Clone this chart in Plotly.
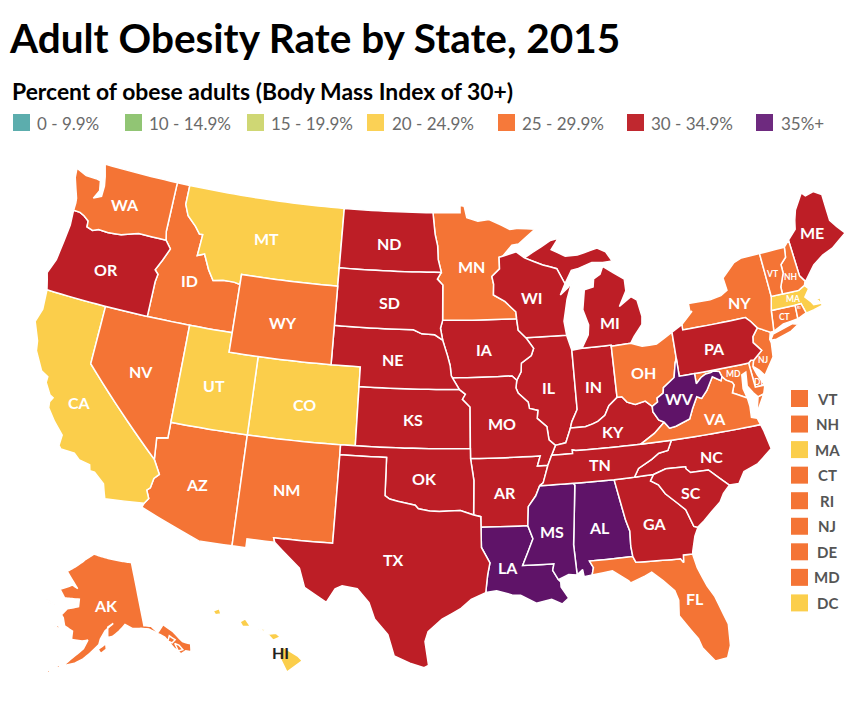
import plotly.graph_objects as go

# ---------- data ----------
STATES = ["AL","AK","AZ","AR","CA","CO","CT","DE","DC","FL","GA","HI","ID","IL","IN","IA","KS","KY","LA","ME","MD","MA","MI","MN","MS","MO","MT","NE","NV","NH","NJ","NM","NY","NC","ND","OH","OK","OR","PA","RI","SC","SD","TN","TX","UT","VT","VA","WA","WV","WI","WY"]
RATES = [35.6,29.8,28.4,34.5,24.2,20.2,25.3,29.7,22.1,26.8,30.7,22.7,28.6,30.8,31.3,32.1,34.2,34.3,36.2,30.0,28.9,24.3,31.2,26.1,35.6,32.4,23.6,31.4,26.7,26.3,25.6,28.8,25.0,30.1,31.0,29.8,33.9,30.1,30.0,26.0,31.7,30.4,33.8,32.4,24.5,25.1,29.2,26.4,35.6,30.7,29.0]
LEGEND_LABELS = ["0 - 9.9%","10 - 14.9%","15 - 19.9%","20 - 24.9%","25 - 29.9%","30 - 34.9%","35%+"]
LEGEND_COLORS = ["#5CADAD","#91C574","#CFD774","#FBD155","#F6793A","#C0282F","#6E2A7F"]
BIN_EDGES = [0,10,15,20,25,30,35,40]
MAP_COLORS = ["#5CADAD","#91C574","#CFD774","#FBCE4B","#F47435","#BD1E26","#5F1368"]
SIDE_STATES = ["VT","NH","MA","CT","RI","NJ","DE","MD","DC"]

# ---------- shared borders, lon/lat ----------
miss_a = [(-92.02,46.71),(-92.29,46.66),(-92.29,46.07),(-92.87,45.70),(-92.76,45.29),(-92.80,44.75),(-92.0,44.40),(-91.25,43.85),(-91.22,43.50)]
miss_b = [(-91.22,43.50),(-91.15,42.91),(-90.64,42.51)]
miss_c = [(-90.64,42.51),(-90.15,41.95),(-90.34,41.59),(-91.05,41.23),(-91.10,40.80),(-91.42,40.38)]
miss_d = [(-91.42,40.38),(-91.50,40.0),(-91.37,39.73),(-90.73,39.25),(-90.67,38.93),(-90.12,38.80),(-90.20,38.4),(-89.6,37.95),(-89.52,37.28),(-89.13,36.98)]
miss_e = [(-89.13,36.98),(-89.42,36.50)]
miss_f = [(-89.42,36.50),(-89.70,36.0)]
miss_g = [(-89.70,36.0),(-90.07,35.13),(-90.30,35.0)]
miss_h = [(-90.30,35.0),(-90.58,34.5),(-91.08,33.97),(-91.17,33.0)]
miss_i = [(-91.17,33.0),(-90.9,32.33),(-91.6,31.0)]
pearl = [(-91.6,31.0),(-89.73,31.0),(-89.83,30.67),(-89.53,30.18)]
ohio_il = [(-89.13,36.98),(-88.45,37.07),(-88.07,37.80)]
ohio_in = [(-88.07,37.80),(-87.1,37.79),(-86.6,37.90),(-86.25,38.0),(-85.75,38.27),(-85.42,38.73),(-84.82,39.10)]
ohio_oh = [(-84.82,39.10),(-84.5,39.10),(-84.2,38.8),(-83.68,38.63),(-83.0,38.73),(-82.59,38.42)]
ohio_wv = [(-82.59,38.42),(-82.2,38.6),(-82.2,38.8),(-81.75,39.0),(-81.68,39.27),(-80.87,39.7),(-80.65,40.4),(-80.52,40.64)]
wabash = [(-87.53,41.71),(-87.53,39.35),(-87.53,38.7),(-87.95,38.1),(-88.07,37.80)]
columbia = [(-124.05,46.27),(-123.55,46.26),(-123.2,46.15),(-122.8,45.95),(-122.76,45.65),(-122.3,45.55),(-121.9,45.68),(-121.2,45.65),(-120.2,45.72),(-119.3,45.93),(-118.98,46.0),(-116.92,45.99)]
snake = [(-116.92,45.99),(-116.47,45.6),(-116.85,44.95),(-117.22,44.4),(-116.95,44.2),(-117.03,43.8),(-117.03,42.0)]
sierra = [(-120.0,42.0),(-120.0,39.0),(-114.63,35.0)]
colorado = [(-114.63,35.0),(-114.14,34.3),(-114.43,34.05),(-114.53,33.55),(-114.72,33.4),(-114.5,33.0),(-114.72,32.72)]
bitterroot = [(-116.05,49.0),(-116.05,48.0),(-115.7,47.45),(-115.0,47.0),(-114.6,46.65),(-114.35,46.65),(-114.45,45.55),(-113.95,45.7),(-113.45,44.95),(-113.0,44.45),(-112.3,44.55),(-111.5,44.55),(-111.05,44.48)]
red_n = [(-97.23,49.0),(-97.15,48.5),(-97.05,47.9),(-96.85,47.3),(-96.8,46.6),(-96.56,45.94)]
sd_mn = [(-96.56,45.94),(-96.85,45.6),(-96.45,45.3),(-96.45,43.5)]
sioux = [(-96.45,43.5),(-96.6,43.1),(-96.44,42.49)]
ne_sd = [(-96.44,42.49),(-97.0,42.76),(-97.9,42.8),(-98.5,43.0),(-104.05,43.0)]
mo_ne = [(-96.44,42.49),(-96.1,41.7),(-95.92,41.2),(-95.85,40.7),(-95.77,40.58)]
mo_ne2 = [(-95.77,40.58),(-95.31,40.0)]
ks_mo = [(-95.31,40.0),(-94.9,39.75),(-95.1,39.5),(-94.6,39.1),(-94.62,37.0)]
red_s = [(-94.48,33.64),(-95.3,33.88),(-96.0,33.85),(-96.6,33.83),(-97.2,33.85),(-97.9,33.95),(-98.1,34.13),(-99.2,34.3),(-99.7,34.4),(-100.0,34.56)]
ok_ar = [(-94.62,36.5),(-94.43,35.4),(-94.48,33.64)]
tx_la = [(-94.04,33.02),(-94.04,31.99),(-93.55,31.2),(-93.7,30.6),(-93.75,30.3),(-93.84,29.69)]
sabine_ar = [(-94.48,33.64),(-94.04,33.55),(-94.04,33.02)]
fl_n = [(-87.52,30.28),(-87.4,30.65),(-87.6,31.0),(-85.0,31.0)]
fl_ga = [(-85.0,31.0),(-84.86,30.7),(-82.2,30.57),(-82.05,30.36),(-82.0,30.75),(-81.45,30.72)]
ga_al = [(-85.61,34.98),(-85.18,32.87),(-85.0,32.3),(-85.05,31.55),(-85.0,31.0)]
savannah = [(-83.11,35.0),(-83.35,34.7),(-82.9,34.45),(-82.55,33.95),(-81.9,33.4),(-81.45,33.0),(-81.12,32.1),(-80.88,32.03)]
sc_nc = [(-83.11,35.0),(-82.3,35.2),(-81.05,35.15),(-81.05,35.05),(-80.8,34.82),(-79.67,34.8),(-78.55,33.86)]
nc_tn = [(-81.68,36.59),(-82.0,36.1),(-82.6,36.03),(-83.1,35.77),(-84.0,35.4),(-84.32,34.99)]
ky_s = [(-89.42,36.50),(-88.07,36.5),(-88.07,36.68),(-87.85,36.64),(-83.68,36.6)]
va_ky = [(-83.68,36.6),(-82.7,37.05),(-81.97,37.54)]
tug = [(-82.59,38.42),(-82.6,38.15),(-82.3,37.7),(-81.97,37.54)]
va_wv = [(-81.97,37.54),(-81.68,37.2),(-81.25,37.25),(-80.3,37.5),(-80.0,38.0),(-79.6,38.55),(-79.3,38.42),(-78.87,38.77),(-78.35,39.4),(-77.83,39.13),(-77.72,39.32)]
potomac_up = [(-77.72,39.32),(-77.83,39.6),(-78.2,39.68),(-78.4,39.62),(-78.75,39.6),(-79.1,39.47),(-79.48,39.2)]
potomac_lo = [(-77.72,39.32),(-77.5,39.1),(-77.12,38.93),(-77.04,38.79),(-77.25,38.4),(-77.0,38.3),(-76.35,38.0)]
delaware = [(-74.7,41.36),(-75.13,40.97),(-75.2,40.68),(-74.75,40.2),(-75.42,39.8)]
ny_pa = [(-79.76,42.0),(-75.35,42.0),(-75.05,41.75),(-74.7,41.36)]
ma_n_w = [(-73.26,42.75),(-72.46,42.73)]
ct_river = [(-72.46,42.73),(-72.45,43.1),(-72.05,43.75),(-72.05,44.2),(-71.6,44.5),(-71.5,45.01)]
up_wi = [(-90.42,46.57),(-89.1,46.15),(-88.1,45.9),(-87.6,45.1)]

def R(p):
    return p[::-1]

def J(*parts):
    out = []
    for part in parts:
        for pt in part:
            if not out or out[-1] != pt:
                out.append(pt)
    return out

SHAPES = {
"WA": [J([(-122.76,49.0),(-117.03,49.0),(-117.04,46.42),(-116.92,45.99)], R(columbia), [(-124.05,46.65),(-124.1,46.9),(-124.35,47.35),(-124.65,47.9),(-124.73,48.38),(-123.9,48.16),(-123.1,48.15),(-122.75,48.1),(-122.6,47.6),(-122.9,47.15),(-122.35,47.35),(-122.35,47.9),(-122.5,48.4)])],
"OR": [J(columbia, snake, [(-124.21,42.0),(-124.4,42.5),(-124.55,42.84),(-124.2,43.6),(-124.07,44.6),(-123.97,45.5)])],
"CA": [J([(-124.21,42.0)], sierra, colorado, [(-117.12,32.53),(-117.25,32.85),(-117.4,33.25),(-118.1,33.72),(-118.4,33.74),(-118.5,34.03),(-119.2,34.15),(-119.6,34.42),(-120.47,34.45),(-120.65,34.6),(-120.62,35.15),(-121.3,35.7),(-121.9,36.3),(-121.95,36.6),(-121.8,36.85),(-122.05,36.95),(-122.5,37.5),(-122.5,37.8),(-123.0,38.0),(-123.7,38.9),(-123.82,39.4),(-124.35,40.3),(-124.1,41.0)])],
"NV": [J([(-117.03,42.0),(-114.04,42.0),(-114.05,37.0),(-114.05,36.2),(-114.75,36.1),(-114.63,35.0)], R(sierra))],
"ID": [J([(-117.03,49.0),(-116.05,49.0)], bitterroot, [(-111.05,42.0),(-114.04,42.0),(-117.03,42.0)], R(snake), [(-117.04,46.42)])],
"MT": [J([(-116.05,49.0),(-104.05,49.0),(-104.05,45.94),(-104.05,45.0),(-111.05,45.0)], R(bitterroot))],
"WY": [[(-111.05,45.0),(-104.05,45.0),(-104.05,43.0),(-104.05,41.0),(-109.05,41.0),(-111.05,41.0)]],
"UT": [[(-114.04,42.0),(-111.05,42.0),(-111.05,41.0),(-109.05,41.0),(-109.05,37.0),(-114.05,37.0)]],
"CO": [[(-109.05,41.0),(-104.05,41.0),(-102.05,41.0),(-102.05,40.0),(-102.05,37.0),(-103.0,37.0),(-109.05,37.0)]],
"AZ": [J([(-114.05,37.0),(-109.05,37.0),(-109.05,31.33),(-111.07,31.33),(-114.81,32.5)], R(colorado), [(-114.75,36.1),(-114.05,36.2)])],
"NM": [[(-109.05,37.0),(-103.0,37.0),(-103.0,36.5),(-103.04,32.0),(-106.62,32.0),(-106.53,31.78),(-108.21,31.78),(-108.21,31.33),(-109.05,31.33)]],
"ND": [J([(-104.05,49.0)], red_n, [(-104.05,45.94)])],
"SD": [J([(-104.05,45.94)], sd_mn, sioux, ne_sd)],
"NE": [J(R(ne_sd), mo_ne, mo_ne2, [(-102.05,40.0),(-102.05,41.0),(-104.05,41.0)])],
"KS": [J([(-102.05,40.0)], ks_mo, [(-102.05,37.0)])],
"OK": [J([(-103.0,37.0),(-102.05,37.0),(-94.62,37.0)], ok_ar, red_s, [(-100.0,36.5),(-103.0,36.5)])],
"TX": [J([(-106.62,32.0),(-103.04,32.0),(-103.0,36.5),(-100.0,36.5)], R(red_s), sabine_ar, tx_la, [(-94.7,29.35),(-95.3,28.9),(-96.4,28.35),(-97.2,27.7),(-97.37,27.2),(-97.15,25.97),(-97.4,25.85),(-98.2,26.07),(-99.1,26.42),(-99.5,27.5),(-100.3,28.27),(-100.67,29.1),(-101.4,29.77),(-102.3,29.88),(-102.7,29.7),(-103.15,28.98),(-104.5,29.65),(-104.9,30.6),(-106.53,31.78)])],
"MN": [J([(-97.23,49.0),(-95.15,49.0),(-95.15,49.38),(-94.83,49.33),(-94.64,48.74),(-93.8,48.55),(-92.95,48.62),(-92.0,48.3),(-91.4,48.07),(-90.75,48.1),(-89.5,48.0),(-90.8,47.3),(-91.3,47.25)], miss_a, [(-96.45,43.5)], R(sd_mn), R(red_n))],
"IA": [J([(-96.45,43.5),(-91.22,43.5)], miss_b, miss_c, [(-91.73,40.61),(-95.77,40.58)], R(mo_ne), R(sioux))],
"MO": [J([(-95.77,40.58),(-91.73,40.61)], miss_d, miss_e, miss_f, [(-90.37,36.0),(-90.15,36.5),(-94.62,36.5),(-94.62,37.0)], R(ks_mo), R(mo_ne2))],
"AR": [J([(-94.62,36.5),(-90.15,36.5),(-90.37,36.0)], miss_g, miss_h, [(-94.04,33.02)], R(sabine_ar), R(ok_ar))],
"LA": [J([(-94.04,33.02)], miss_i, pearl, [(-89.4,30.05),(-89.4,29.8),(-89.0,29.2),(-89.4,28.93),(-90.0,29.2),(-90.9,29.05),(-91.8,29.5),(-92.3,29.53),(-93.2,29.77)], R(tx_la))],
"MS": [J([(-90.30,35.0),(-88.2,35.0),(-88.1,34.9),(-88.47,31.9),(-88.4,30.35),(-88.9,30.4)], R(pearl), R(miss_i), R(miss_h))],
"AL": [J([(-88.2,35.0)], ga_al, R(fl_n), [(-88.0,30.23),(-88.05,30.6),(-88.4,30.35),(-88.47,31.9),(-88.1,34.9)])],
"FL": [J(fl_n, fl_ga, [(-81.3,30.0),(-80.9,29.0),(-80.55,28.4),(-80.05,26.9),(-80.13,25.8),(-80.4,25.2),(-81.1,25.13),(-81.7,25.9),(-81.85,26.4),(-82.2,26.9),(-82.75,27.7),(-82.65,28.5),(-82.8,29.0),(-83.4,29.6),(-84.0,30.1),(-84.4,29.95),(-85.3,29.68),(-85.4,29.8),(-86.3,30.4)])],
"GA": [J([(-85.61,34.98),(-84.32,34.99)], savannah, [(-81.15,31.6),(-81.4,30.9)], R(fl_ga), R(ga_al))],
"SC": [J(sc_nc, [(-79.0,33.5),(-79.3,33.1),(-79.9,32.7),(-80.45,32.3)], R(savannah))],
"NC": [J([(-84.32,34.99)], sc_nc, [(-77.95,33.85),(-77.5,34.4),(-76.55,34.65),(-75.53,35.25),(-75.75,36.2),(-75.87,36.55)], nc_tn)],
"TN": [J([(-90.30,35.0)], R(miss_g), R(miss_f), ky_s, nc_tn, [(-85.61,34.98),(-88.2,35.0)])],
"KY": [J(R(miss_e), ohio_il, ohio_in, ohio_oh, tug, R(va_ky), R(ky_s))],
"VA": [J(va_ky, va_wv, potomac_lo, [(-76.3,37.55),(-76.35,37.0),(-76.0,36.9),(-75.87,36.55),(-81.68,36.59)]), [(-75.65,37.95),(-75.25,38.03),(-75.95,37.15)]],
"WV": [J(ohio_wv, [(-80.52,39.72),(-79.48,39.72)], R(potomac_up), R(va_wv), R(tug))],
"MD": [J([(-79.48,39.72),(-75.79,39.72),(-75.69,38.46),(-75.05,38.45),(-75.25,38.03),(-75.65,37.95),(-75.9,38.2),(-76.2,38.6),(-76.1,39.3),(-76.4,39.2),(-76.5,38.5)], R(potomac_lo), potomac_up)],
"DC": [[(-77.12,38.93),(-77.04,39.0),(-76.91,38.89),(-77.04,38.79)]],
"DE": [[(-75.79,39.72),(-75.6,39.83),(-75.42,39.8),(-75.55,39.45),(-75.4,39.05),(-75.05,38.45),(-75.69,38.46)]],
"PA": [J([(-80.52,41.98),(-79.76,42.27)], ny_pa, delaware, [(-75.6,39.83),(-75.79,39.72),(-79.48,39.72),(-80.52,39.72),(-80.52,40.64)])],
"NJ": [J(delaware, [(-75.55,39.5),(-75.2,39.25),(-74.9,38.93),(-74.1,39.75),(-74.0,40.45),(-74.05,40.65),(-73.9,41.0)])],
"NY": [J(ny_pa, [(-73.9,41.0),(-73.65,41.0),(-73.49,42.05),(-73.26,42.75),(-73.35,45.01),(-74.7,45.0),(-75.3,44.85),(-76.3,44.2),(-76.2,43.55),(-76.7,43.35),(-77.5,43.25),(-79.05,43.27),(-79.05,42.85),(-78.9,42.85),(-79.76,42.27)]), [(-74.0,40.6),(-73.75,40.87),(-72.3,41.15),(-71.9,41.05),(-72.5,40.8),(-73.6,40.58)]],
"CT": [[(-73.49,42.05),(-71.8,42.02),(-71.85,41.32),(-72.9,41.25),(-73.65,41.0)]],
"RI": [[(-71.8,42.02),(-71.38,42.02),(-71.2,41.5),(-71.4,41.45),(-71.85,41.32)]],
"MA": [[(-73.49,42.05),(-73.26,42.75),(-72.46,42.73),(-71.3,42.7),(-70.82,42.87),(-70.6,42.65),(-71.0,42.3),(-70.65,41.95),(-70.55,41.8),(-70.05,41.78),(-70.25,42.05),(-70.0,42.05),(-70.0,41.65),(-70.65,41.55),(-71.12,41.5),(-71.2,41.5),(-71.38,42.02),(-71.8,42.02)]],
"VT": [J([(-73.35,45.01)], R(ct_river), R(ma_n_w))],
"NH": [J([(-71.5,45.01),(-71.08,45.3),(-70.98,43.4),(-70.7,43.07),(-70.82,42.87),(-71.3,42.7)], ct_river)],
"ME": [[(-71.08,45.3),(-70.4,45.75),(-70.25,46.2),(-70.0,46.7),(-69.23,47.46),(-69.0,47.25),(-68.35,47.35),(-67.8,47.07),(-67.8,45.7),(-67.45,45.3),(-67.0,44.85),(-68.2,44.3),(-69.0,44.1),(-69.8,43.75),(-70.6,43.1),(-70.7,43.07),(-70.98,43.4)]],
"MI": [[(-86.82,41.76),(-84.8,41.76),(-84.8,41.7),(-83.45,41.73),(-83.15,42.05),(-82.5,42.6),(-82.42,43.0),(-82.6,43.85),(-83.0,44.07),(-83.9,43.65),(-83.3,44.4),(-83.3,45.0),(-84.75,45.78),(-85.0,45.4),(-85.5,45.2),(-85.6,44.8),(-86.25,44.7),(-86.5,43.7),(-86.2,42.9),(-86.3,42.4)],
       J(up_wi[0:1], [(-89.8,46.82),(-88.4,47.37),(-87.8,47.45),(-88.4,46.9),(-87.4,46.5),(-86.5,46.5),(-85.0,46.75),(-84.4,46.5),(-84.0,46.0),(-84.7,45.98),(-85.5,46.05),(-86.6,45.8),(-87.05,45.75)], R(up_wi))],
"WI": [J([(-92.02,46.71),(-91.0,46.9)], up_wi, [(-88.0,44.55),(-87.4,44.9),(-87.05,45.25),(-87.55,44.3),(-87.9,43.2),(-87.8,42.49)], R(miss_b), R(miss_a))],
"IL": [J([(-90.64,42.51),(-87.8,42.49)], wabash, R(ohio_il), R(miss_d), R(miss_c))],
"IN": [J([(-87.53,41.71),(-86.82,41.76),(-84.8,41.76)], R(ohio_in), R(wabash))],
"OH": [J([(-84.8,41.7),(-83.45,41.73),(-82.7,41.5),(-81.7,41.5),(-80.52,41.98)], R(ohio_wv), R(ohio_oh))],
"AK": [[(-141.0,69.65),(-141.0,60.3),(-139.0,60.0),(-137.5,58.9),(-135.5,59.8),(-133.4,58.4),(-131.8,56.6),(-130.0,55.9),(-130.6,54.8),(-131.8,55.2),(-133.2,55.0),(-134.5,56.2),(-136.0,58.0),(-137.0,58.5),(-139.8,59.7),(-142.0,60.0),(-144.5,60.2),(-146.5,60.9),(-148.5,60.0),(-150.5,59.3),(-151.8,59.2),(-151.7,60.7),(-150.0,61.2),(-152.5,60.2),(-153.9,59.0),(-154.3,58.2),(-156.5,57.0),(-158.5,56.0),(-160.5,55.3),(-163.3,54.75),(-161.5,55.9),(-158.5,57.5),(-157.4,58.8),(-159.0,58.6),(-162.0,58.7),(-162.0,59.9),(-164.5,60.5),(-165.3,61.6),(-166.0,62.0),(-164.5,63.0),(-161.0,63.5),(-161.0,64.6),(-166.0,64.5),(-168.1,65.6),(-164.0,66.5),(-162.0,66.1),(-163.8,67.0),(-166.8,68.35),(-163.0,69.5),(-160.0,70.5),(-156.6,71.35),(-152.0,70.85),(-146.0,70.2)],
       [(-154.5,57.5),(-152.4,58.3),(-152.3,57.5),(-153.8,56.9)],
       [(-166.3,60.4),(-165.7,59.9),(-167.4,60.2)],
       [(-171.7,63.7),(-168.8,63.3),(-170.5,63.3)],
       [(-164.9,54.6),(-163.4,54.9),(-164.5,54.3)],
       [(-166.5,53.9),(-167.0,53.5),(-166.2,53.4)],
       [(-133.5,57.2),(-134.7,58.0),(-135.5,57.3),(-134.5,56.9)],
       [(-133.0,56.3),(-133.9,56.7),(-133.6,55.5),(-132.4,55.5)]],
"HI": [[(-155.9,20.25),(-155.05,19.75),(-154.8,19.5),(-155.65,18.92),(-156.05,19.7)],
       [(-156.7,20.9),(-156.25,20.95),(-156.0,20.75),(-156.4,20.58)],
       [(-158.25,21.55),(-157.95,21.7),(-157.65,21.3),(-158.1,21.3)],
       [(-159.75,22.1),(-159.4,22.23),(-159.3,21.95),(-159.6,21.9)],
       [(-157.3,21.2),(-156.7,21.15),(-156.95,21.05)]],
}

# label anchor, size class: page pixels
LABELS_BIG = {"WA":(125,204),"OR":(106,269),"CA":(79,402),"NV":(141,371),"ID":(189,280),"MT":(266,239),"WY":(283,322),"UT":(214,385),"CO":(304,404),"AZ":(197,484),"NM":(286,489),"ND":(389,243),"SD":(389,302),"NE":(393,359),"KS":(413,420),"OK":(424,478),"TX":(393,559),"MN":(471,267),"IA":(484,349),"MO":(502,423),"AR":(505,492),"LA":(508,567),"MS":(552,531),"AL":(599,527),"GA":(654,523),"FL":(695,598),"SC":(691,493),"NC":(711,456),"TN":(600,465),"KY":(613,431),"VA":(714,418),"WV":(679,399),"OH":(643,372),"IN":(593,386),"IL":(549,387),"WI":(532,297),"MI":(610,322),"PA":(714,348),"NY":(739,302),"ME":(812,233),"AK":(106,605)}
LABELS_SMALL = {"VT":(772,274),"NH":(790,277),"MA":(793,299),"CT":(784,317),"NJ":(763,360),"MD":(733,374),"DE":(759,382)}

# ---------- helpers ----------
def densify(ring):
    out = []
    n = len(ring)
    for i in range(n):
        a, b = ring[i], ring[(i + 1) % n]
        d = max(abs(a[0] - b[0]), abs(a[1] - b[1]))
        steps = max(1, int(d / 0.5))
        for k in range(steps):
            t = k / steps
            out.append((a[0] + (b[0] - a[0]) * t, a[1] + (b[1] - a[1]) * t))
    out.append(out[0])
    return out

def clockwise(ring):
    area = sum(ring[i][0] * ring[i + 1][1] - ring[i + 1][0] * ring[i][1] for i in range(len(ring) - 1))
    return ring if area < 0 else ring[::-1]

def color_of(st):
    r = RATES[STATES.index(st)]
    for i in range(7):
        if BIN_EDGES[i] <= r < BIN_EDGES[i + 1]:
            return MAP_COLORS[i]

SUBPLOT = {"AK": "geo2", "HI": "geo3"}
fig = go.Figure()
for st in STATES:
    lons, lats = [], []
    for ring in SHAPES[st]:
        pts = clockwise(densify(ring))
        lons += [p[0] for p in pts] + [None]
        lats += [p[1] for p in pts] + [None]
    fig.add_trace(go.Scattergeo(lon=lons[:-1], lat=lats[:-1], mode="lines", fill="toself", fillcolor=color_of(st),
                                line=dict(color="white", width=1.5), name=st, hoverinfo="name",
                                geo=SUBPLOT.get(st, "geo")))

FONT = "Lato, Arial"
W, H = 860, 702
OFF = 8  # page margin
def px(x): return (x - OFF) / W
def py(y): return 1 - (y - OFF) / H

shapes, anns = [], []
def text(x, y, s, size, color, bold=True, anchor="left"):
    anns.append(dict(x=px(x), y=py(y), xref="paper", yref="paper", text=s, showarrow=False, xanchor=anchor, yanchor="middle",
                     font=dict(family=FONT, size=size, color=color, weight="bold" if bold else "normal")))
def swatch(x0, y0, x1, y1, c):
    shapes.append(dict(type="rect", xref="paper", yref="paper", x0=px(x0), x1=px(x1), y0=py(y0), y1=py(y1), fillcolor=c, line_width=0))

text(7, 38, "Adult Obesity Rate by State, 2015", 40.5, "#000")
text(10, 91, "Percent of obese adults (Body Mass Index of 30+)", 22.9, "#000")
SW_X = [13, 125, 247, 367, 498, 627, 756]
TX_X = [34.5, 146.5, 268.5, 389.5, 519.5, 648.5, 778.5]
for i, lab in enumerate(LEGEND_LABELS):
    swatch(SW_X[i], 114, SW_X[i] + 17, 131, LEGEND_COLORS[i])
    text(TX_X[i], 123, lab, 17, "#6a6a6a", bold=False)

for i, s in enumerate(SIDE_STATES):
    y = 390 + 25.55 * i
    swatch(791, y, 808, y + 17, color_of(s))
    text(827, y + 8.5, s, 15, "#555", anchor="center")

for s, (x, y) in LABELS_BIG.items():
    text(x, y, s, 16, "white", anchor="center")
for s, (x, y) in LABELS_SMALL.items():
    text(x, y, s, 8.5, "white", anchor="center")
text(799, 307, "RI", 4, "white", anchor="center")
text(280, 652, "HI", 16, "#222", anchor="center")

common = dict(showland=False, showlakes=False, showcoastlines=False, showsubunits=False, showcountries=False,
              showocean=False, showrivers=False, showframe=False, bgcolor="rgba(0,0,0,0)")

def geo_cfg(parallels, rot, center, lon_range, lat_range, scale, xd, yd):
    g = dict(common)
    g["projection"] = dict(type="conic equal area", parallels=parallels, rotation=dict(lon=rot), scale=scale)
    g["center"] = dict(lon=center[0], lat=center[1])
    g["lonaxis"] = dict(showgrid=False, range=lon_range)
    g["lataxis"] = dict(showgrid=False, range=lat_range)
    g["domain"] = dict(x=xd, y=yd)
    return g

fig.update_layout(
    width=W, height=H, margin=dict(l=0, r=0, t=0, b=0), showlegend=False, paper_bgcolor="white",
    shapes=shapes, annotations=anns,
    geo=geo_cfg([29.5, 45.5], -96, (-96, 37.9), [-119.5, -72.5], [24, 50.5], 1.00953, [22 / 860, 1], [0, 0.79487]),
    geo2=geo_cfg([55, 65], -154, (-152.10, 62.6), [-174, -128], [51, 72], 1.0036, [0, 196 / 860], [0.02279, 0.25071]),
    geo3=geo_cfg([8, 18], -157, (-157.50, 20.50), [-161, -154], [18, 23], 1.0143, [0.21198, 0.35849], [0.02593, 0.16838]),
)
fig.write_html("out.html")
